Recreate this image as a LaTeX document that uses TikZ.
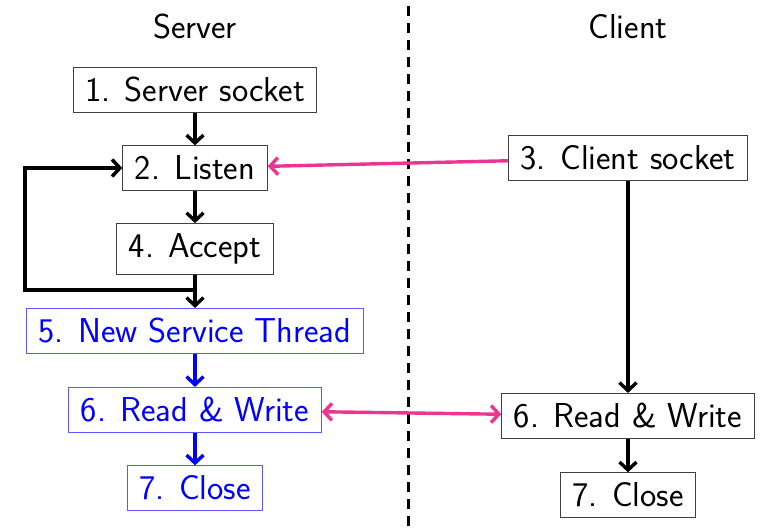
\documentclass[tikz,border=0pt]{standalone}
\usetikzlibrary{arrows.meta}
\definecolor{linkpink}{RGB}{236,52,146}
\definecolor{threadblue}{RGB}{0,0,255}
\tikzset{
  stepbox/.style={draw=black!75, line width=0.5pt, inner xsep=6pt, inner ysep=5pt, font=\sffamily\LARGE},
  threadbox/.style={stepbox, draw=threadblue!65, text=threadblue},
  flow/.style={line width=1.7pt, -{Straight Barb[length=4pt,width=8.5pt]}},
  threadflow/.style={flow, draw=threadblue},
  link/.style={line width=1.7pt, draw=linkpink, -{Straight Barb[length=4pt,width=8.5pt]}}
}
\begin{document}
\begin{tikzpicture}[x=0.5pt, y=-0.5pt]
\useasboundingbox (0,0) rectangle (778,530);
% titles and divider
\node[font=\sffamily\LARGE] (srvtitle) at (195,27) {Server};
\node[font=\sffamily\LARGE] (clititle) at (628,27) {Client};
\draw[line width=1.5pt, dash pattern=on 5pt off 3.5pt] (408,6) -- (408,530);
% server side
\node[stepbox] (ssock) at (195,90) {1. Server socket};
\node[stepbox] (listen) at (195,168) {2. Listen};
\node[stepbox] (accept) at (195,249) {4. Accept};
\node[threadbox] (newthread) at (195,331) {5. New Service Thread};
\node[threadbox] (srvrw) at (195,410) {6. Read \& Write};
\node[threadbox] (srvclose) at (195,488) {7. Close};
% client side
\node[stepbox] (csock) at (628,158) {3. Client socket};
\node[stepbox] (clirw) at (628,416) {6. Read \& Write};
\node[stepbox] (cliclose) at (628,495) {7. Close};
% server flow
\draw[flow] (ssock) -- (listen);
\draw[flow] (listen) -- (accept);
\draw[flow] (accept) -- (newthread);
\coordinate (split) at (195,290);
\coordinate (loopcorner) at (25,290);
\draw[flow] (split) -- (loopcorner) |- (listen.west);
\draw[threadflow] (newthread) -- (srvrw);
\draw[threadflow] (srvrw) -- (srvclose);
% client flow
\draw[flow] (csock) -- (clirw);
\draw[flow] (clirw) -- (cliclose);
% connections
\draw[link] (csock) -- (listen);
\draw[link, {Straight Barb[length=4pt,width=8.5pt]}-{Straight Barb[length=4pt,width=8.5pt]}] (srvrw) -- (clirw);
\end{tikzpicture}
\end{document}
